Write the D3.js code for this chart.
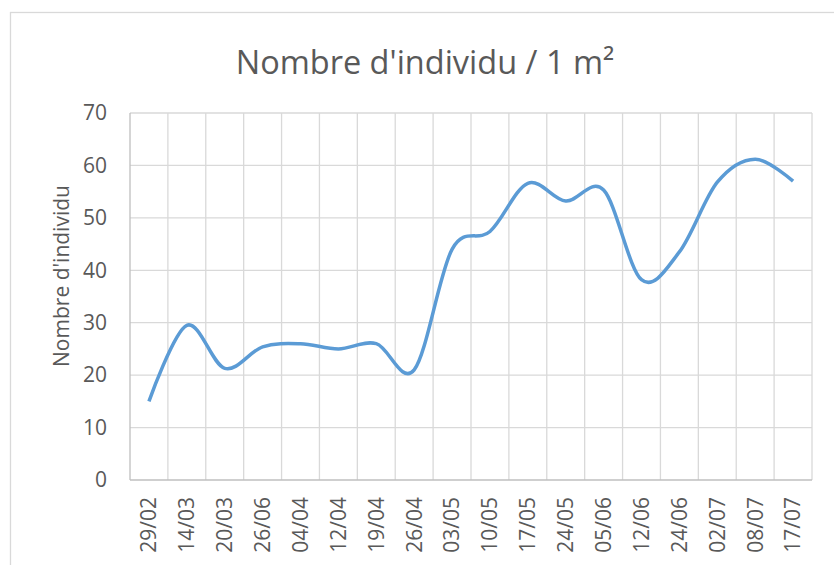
<!DOCTYPE html>
<html lang="fr">
<head>
<meta charset="UTF-8">
<title>Nombre d'individu / 1 m²</title>
<style>
body { margin: 0; background: #fff; }
svg text { font-family: "Open Sans", "Noto Sans", sans-serif; fill: #595959; }
.grid line { stroke: #d9d9d9; stroke-width: 1.3px; }
.line { fill: none; stroke: #5b9bd5; stroke-width: 3.5px; stroke-linejoin: round; }
</style>
</head>
<body>
<script src="https://cdnjs.cloudflare.com/ajax/libs/d3/7.8.5/d3.min.js"></script>
<script>
// dates de prélèvement
var dates = ["29/02", "14/03", "20/03", "26/06", "04/04", "12/04", "19/04", "26/04", "03/05",
  "10/05", "17/05", "24/05", "05/06", "12/06", "24/06", "02/07", "08/07", "17/07"];
// nombre d'individus par m²
var individus = [15, 29.5, 21.3, 25.4, 26, 25, 26, 21, 44, 47.4, 56.6, 53.2, 55.3, 38.2, 43.5, 56.8, 61.2, 57];
var yTicks = [0, 10, 20, 30, 40, 50, 60, 70];

var width = 834, height = 565;
var margin = { top: 113, right: 22, bottom: 85, left: 130 };

var svg = d3.select("body").append("svg")
  .attr("width", width).attr("height", height);

// cadre du graphique
svg.append("rect")
  .attr("x", 10.5).attr("y", 12.5)
  .attr("width", 900).attr("height", 700)
  .attr("fill", "none").attr("stroke", "#d9d9d9").attr("stroke-width", 1.3);

var x = d3.scaleBand().domain(dates)
  .range([margin.left, width - margin.right]);
var y = d3.scaleLinear().domain([0, 70])
  .range([height - margin.bottom, margin.top]);

// grille horizontale
svg.append("g").attr("class", "grid")
  .selectAll("line").data(yTicks.slice(1)).enter().append("line")
  .attr("x1", margin.left).attr("x2", width - margin.right)
  .attr("y1", d => y(d)).attr("y2", d => y(d));

// grille verticale (entre les graduations)
svg.append("g").attr("class", "grid")
  .selectAll("line").data(dates).enter().append("line")
  .attr("x1", d => x(d) + x.bandwidth()).attr("x2", d => x(d) + x.bandwidth())
  .attr("y1", y(0)).attr("y2", y(70));

// axes
svg.append("line")
  .attr("x1", margin.left).attr("x2", margin.left)
  .attr("y1", y(0)).attr("y2", y(70))
  .attr("stroke", "#bfbfbf").attr("stroke-width", 1.3);
svg.append("line")
  .attr("x1", margin.left).attr("x2", width - margin.right)
  .attr("y1", y(0)).attr("y2", y(0))
  .attr("stroke", "#bfbfbf").attr("stroke-width", 1.3);

svg.append("g").selectAll("text").data(yTicks).enter().append("text")
  .attr("x", 107).attr("y", d => y(d)).attr("dy", "0.35em")
  .attr("text-anchor", "end").style("font-size", "21px")
  .text(d => d);

svg.append("g").selectAll("text").data(dates).enter().append("text")
  .attr("transform", d => "translate(" + (x(d) + x.bandwidth() / 2) + "," + 497 + ") rotate(-90)")
  .attr("dy", "0.35em").attr("text-anchor", "end")
  .style("font-size", "21px")
  .text(d => d);

// courbe lissée
var line = d3.line()
  .x((d, i) => x(dates[i]) + x.bandwidth() / 2)
  .y(d => y(d))
  .curve(d3.curveCardinal.tension(0));
svg.append("path").datum(individus).attr("class", "line").attr("d", line);

// titres
svg.append("text")
  .attr("x", 425).attr("y", 74).attr("text-anchor", "middle")
  .style("font-size", "32.5px")
  .text("Nombre d'individu / 1 m²");

svg.append("text")
  .attr("transform", "translate(62,276) rotate(-90)")
  .attr("text-anchor", "middle").attr("dy", "0.35em")
  .style("font-size", "21px")
  .text("Nombre d'individu");
</script>
</body>
</html>
